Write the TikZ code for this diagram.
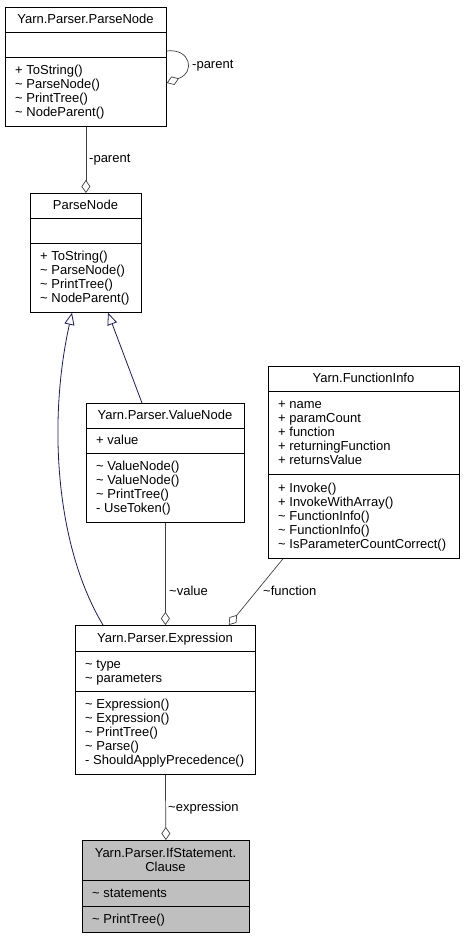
\documentclass[tikz,border=0pt]{standalone}
\usepackage{fontspec}
\setmainfont{Liberation Sans}
\usetikzlibrary{arrows.meta,calc}
\definecolor{edgeblue}{HTML}{191970}
\definecolor{edgegray}{HTML}{404040}
\definecolor{clsgray}{HTML}{BFBFBF}
\newcommand{\tld}{\textasciitilde}
\newcommand{\memlines}[4]{%
  \foreach \t [count=\i] in {#4} {\node[mem] (#1\i) at ({#2},{#3+(\i-1)*14}) {\t};}}
\begin{document}
\begin{tikzpicture}[x=1pt,y=-1pt,font=\fontsize{13}{14}\selectfont,
  cls/.style={draw=black, line width=0.8pt, fill=white, inner sep=0pt, anchor=north west},
  sepline/.style={draw=black, line width=0.8pt},
  ttl/.style={inner sep=0pt, text height=8pt, text depth=0pt, anchor=center},
  mem/.style={inner sep=0pt, text height=8pt, text depth=0pt, anchor=west},
  lbl/.style={inner sep=0pt, text height=8pt, text depth=0pt, anchor=west},
  inherit/.style={draw=edgeblue, line width=0.8pt, -{Triangle[open, length=12pt, width=10pt, fill=white]}},
  assoc/.style={draw=edgegray, line width=0.7pt, -{Diamond[open, length=13pt, width=9pt, fill=white]}}]
\useasboundingbox (0,0) rectangle (464,939);

% A: Yarn.Parser.ParseNode
\node[cls, minimum width=161pt, minimum height=119pt] (A) at (5,7) {};
\draw[sepline] (5,32) -- (166,32);
\draw[sepline] (5,57) -- (166,57);
\node[ttl] (At) at (85.5,19.5) {Yarn.Parser.ParseNode};
\memlines{Am}{15}{70.5}{+ ToString(), \tld\ ParseNode(), \tld\ PrintTree(), \tld\ NodeParent()}

% B: ParseNode
\node[cls, minimum width=111pt, minimum height=119pt] (B) at (30,193) {};
\draw[sepline] (30,218) -- (141,218);
\draw[sepline] (30,243) -- (141,243);
\node[ttl] (Bt) at (85.5,205.5) {ParseNode};
\memlines{Bm}{40}{256.5}{+ ToString(), \tld\ ParseNode(), \tld\ PrintTree(), \tld\ NodeParent()}

% C: Yarn.Parser.ValueNode
\node[cls, minimum width=158pt, minimum height=119pt] (C) at (86,403) {};
\draw[sepline] (86,428) -- (244,428);
\draw[sepline] (86,453) -- (244,453);
\node[ttl] (Ct) at (165,415.5) {Yarn.Parser.ValueNode};
\memlines{Ca}{96}{440.5}{+ value}
\memlines{Cm}{96}{466.5}{\tld\ ValueNode(), \tld\ ValueNode(), \tld\ PrintTree(), - UseToken()}

% D: Yarn.FunctionInfo
\node[cls, minimum width=191pt, minimum height=192pt] (D) at (268,366) {};
\draw[sepline] (268,391) -- (459,391);
\draw[sepline] (268,474) -- (459,474);
\node[ttl] (Dt) at (363.5,378.5) {Yarn.FunctionInfo};
\memlines{Da}{278}{404.5}{+ name, + paramCount, + function, + returningFunction, + returnsValue}
\memlines{Dm}{278}{488}{+ Invoke(), + InvokeWithArray(), \tld\ FunctionInfo(), \tld\ FunctionInfo(), \tld\ IsParameterCountCorrect()}

% E: Yarn.Parser.Expression
\node[cls, minimum width=180pt, minimum height=149pt] (E) at (75,625) {};
\draw[sepline] (75,651) -- (255,651);
\draw[sepline] (75,691) -- (255,691);
\node[ttl] (Et) at (165,638) {Yarn.Parser.Expression};
\memlines{Ea}{85}{664}{\tld\ type, \tld\ parameters}
\memlines{Em}{85}{704.5}{\tld\ Expression(), \tld\ Expression(), \tld\ PrintTree(), \tld\ Parse(), - ShouldApplyPrecedence()}

% F: Yarn.Parser.IfStatement.Clause
\node[cls, fill=clsgray, minimum width=167pt, minimum height=92pt] (F) at (82,840) {};
\draw[sepline] (82,880) -- (249,880);
\draw[sepline] (82,906) -- (249,906);
\node[ttl] (Ft1) at (165.5,853) {Yarn.Parser.IfStatement.};
\node[ttl] (Ft2) at (165.5,867) {Clause};
\memlines{Fa}{92}{893}{\tld\ statements}
\memlines{Fm}{92}{919}{\tld\ PrintTree()}

% connectors
\draw[assoc] ($(A.north east)+(0,44)$) .. controls (190,48) and (196,72) .. ($(A.north east)+(0,76)$);
\node[lbl] (l1) at (192,65) {-parent};
\draw[assoc] (A.south) -- (B.north);
\node[lbl] (l2) at (89,158) {-parent};
\draw[inherit] ($(C.north west)+(56,0)$) -- ($(B.south west)+(78,0)$);
\draw[inherit] ($(E.north west)+(28,0)$) .. controls (55,545) and (48,420) .. ($(B.south west)+(42,0)$);
\draw[assoc] (C.south) -- (E.north);
\node[lbl] (l3) at (169,591) {\tld value};
\draw[assoc] ($(D.south west)+(15,0)$) -- ($(E.north east)+(-27,0)$);
\node[lbl] (l4) at (263,591) {\tld function};
\draw[assoc] (E.south) -- (F.north);
\node[lbl] (l5) at (168,807) {\tld expression};
\end{tikzpicture}
\end{document}
